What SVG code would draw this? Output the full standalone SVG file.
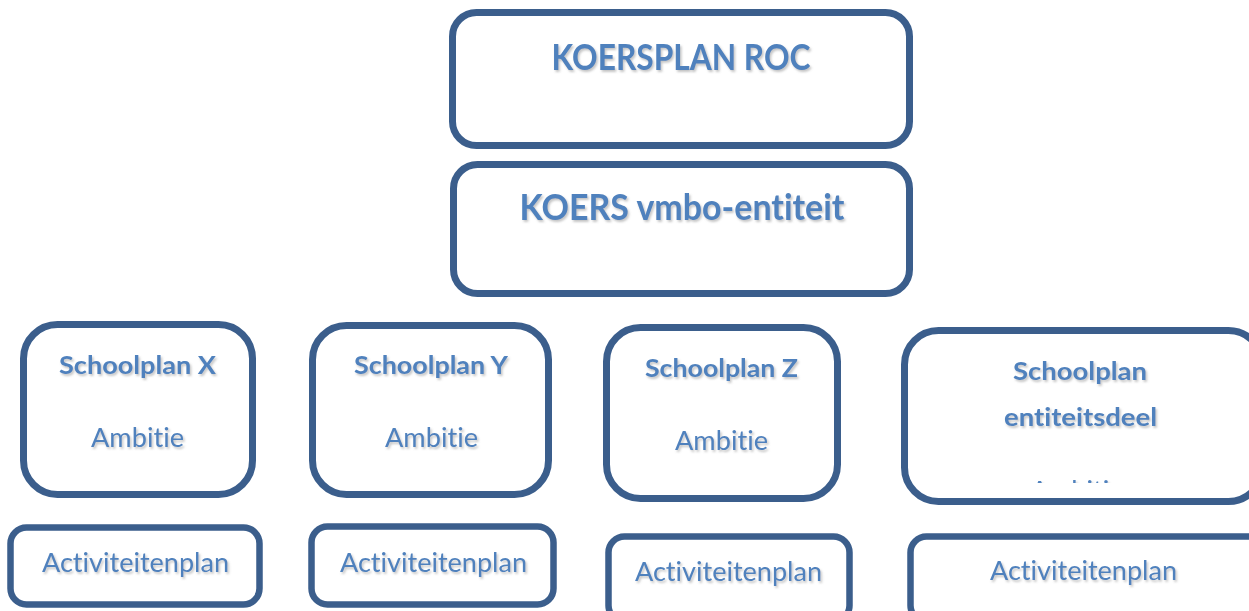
<svg xmlns="http://www.w3.org/2000/svg" width="1249" height="611" viewBox="0 0 1249 611">
  <defs>
    <filter id="soft-shadow" x="-10%" y="-30%" width="120%" height="170%">
      <feDropShadow dx="1.5" dy="2" stdDeviation="1.2" flood-color="#7f7f7f" flood-opacity="0.45"/>
    </filter>
    <clipPath id="clip-ambitie-e">
      <rect x="1000" y="479" width="160" height="4"/>
    </clipPath>
  </defs>
  <style>
    .box { fill: #ffffff; stroke: #3b5e8c; stroke-width: 7; }
    .thin { stroke-width: 6.5; }
    text { fill: #4f81bd; font-family: Lato, "Open Sans", "Liberation Sans", sans-serif; text-anchor: middle; font-variant-ligatures: none; font-feature-settings: "liga" 0, "clig" 0; filter: url(#soft-shadow); }
    .head { font-weight: bold; font-size: 36px; }
    .title { font-weight: bold; font-size: 24px; }
    .body { font-size: 26.5px; }
  </style>

  <rect width="1249" height="611" fill="#ffffff"/>

  <g id="connectors"/>

  <g id="koersplan-roc">
    <rect class="box" x="452.5" y="12.5" width="457" height="133" rx="24"/>
    <text class="head" x="681" y="70" textLength="259" lengthAdjust="spacingAndGlyphs">KOERSPLAN ROC</text>
  </g>

  <g id="koers-vmbo">
    <rect class="box" x="453.5" y="164.5" width="456" height="129" rx="24"/>
    <text class="head" x="682" y="220" textLength="325" lengthAdjust="spacingAndGlyphs">KOERS vmbo-entiteit</text>
  </g>

  <g id="schoolplan-x">
    <rect class="box" x="23.5" y="324.5" width="229" height="170" rx="34"/>
    <text class="title" x="137.5" y="374" textLength="157" lengthAdjust="spacingAndGlyphs">Schoolplan X</text>
    <text class="body" x="137.5" y="447" textLength="93" lengthAdjust="spacingAndGlyphs">Ambitie</text>
  </g>

  <g id="schoolplan-y">
    <rect class="box" x="312.5" y="325.5" width="236" height="169" rx="34"/>
    <text class="title" x="431" y="374" textLength="154" lengthAdjust="spacingAndGlyphs">Schoolplan Y</text>
    <text class="body" x="431.5" y="447" textLength="93" lengthAdjust="spacingAndGlyphs">Ambitie</text>
  </g>

  <g id="schoolplan-z">
    <rect class="box" x="606.5" y="327.5" width="231" height="171" rx="34"/>
    <text class="title" x="721.5" y="377" textLength="153" lengthAdjust="spacingAndGlyphs">Schoolplan Z</text>
    <text class="body" x="721.5" y="450" textLength="93" lengthAdjust="spacingAndGlyphs">Ambitie</text>
  </g>

  <g id="schoolplan-entiteitsdeel">
    <rect class="box" x="904.5" y="330.5" width="358" height="171" rx="34"/>
    <text class="title" x="1080" y="380" textLength="134" lengthAdjust="spacingAndGlyphs">Schoolplan</text>
    <text class="title" x="1080.5" y="426" textLength="153" lengthAdjust="spacingAndGlyphs">entiteitsdeel</text>
    <!-- third line runs past the box bottom; only the top sliver shows -->
    <g clip-path="url(#clip-ambitie-e)">
      <text class="body" x="1077" y="500" textLength="93" lengthAdjust="spacingAndGlyphs">Ambitie</text>
    </g>
  </g>

  <g id="activiteitenplan-x">
    <rect class="box thin" x="10.5" y="527.5" width="249" height="77" rx="16"/>
    <text class="body" x="135.5" y="572" textLength="187" lengthAdjust="spacingAndGlyphs">Activiteitenplan</text>
  </g>

  <g id="activiteitenplan-y">
    <rect class="box thin" x="311.5" y="526.5" width="242" height="78" rx="16"/>
    <text class="body" x="433.5" y="572" textLength="187" lengthAdjust="spacingAndGlyphs">Activiteitenplan</text>
  </g>

  <g id="activiteitenplan-z">
    <rect class="box thin" x="608.5" y="536.5" width="241" height="85" rx="16"/>
    <text class="body" x="728.5" y="581" textLength="187" lengthAdjust="spacingAndGlyphs">Activiteitenplan</text>
  </g>

  <g id="activiteitenplan-entiteitsdeel">
    <rect class="box thin" x="910.5" y="536.5" width="360" height="85" rx="16"/>
    <text class="body" x="1083.5" y="580" textLength="187" lengthAdjust="spacingAndGlyphs">Activiteitenplan</text>
  </g>
</svg>
